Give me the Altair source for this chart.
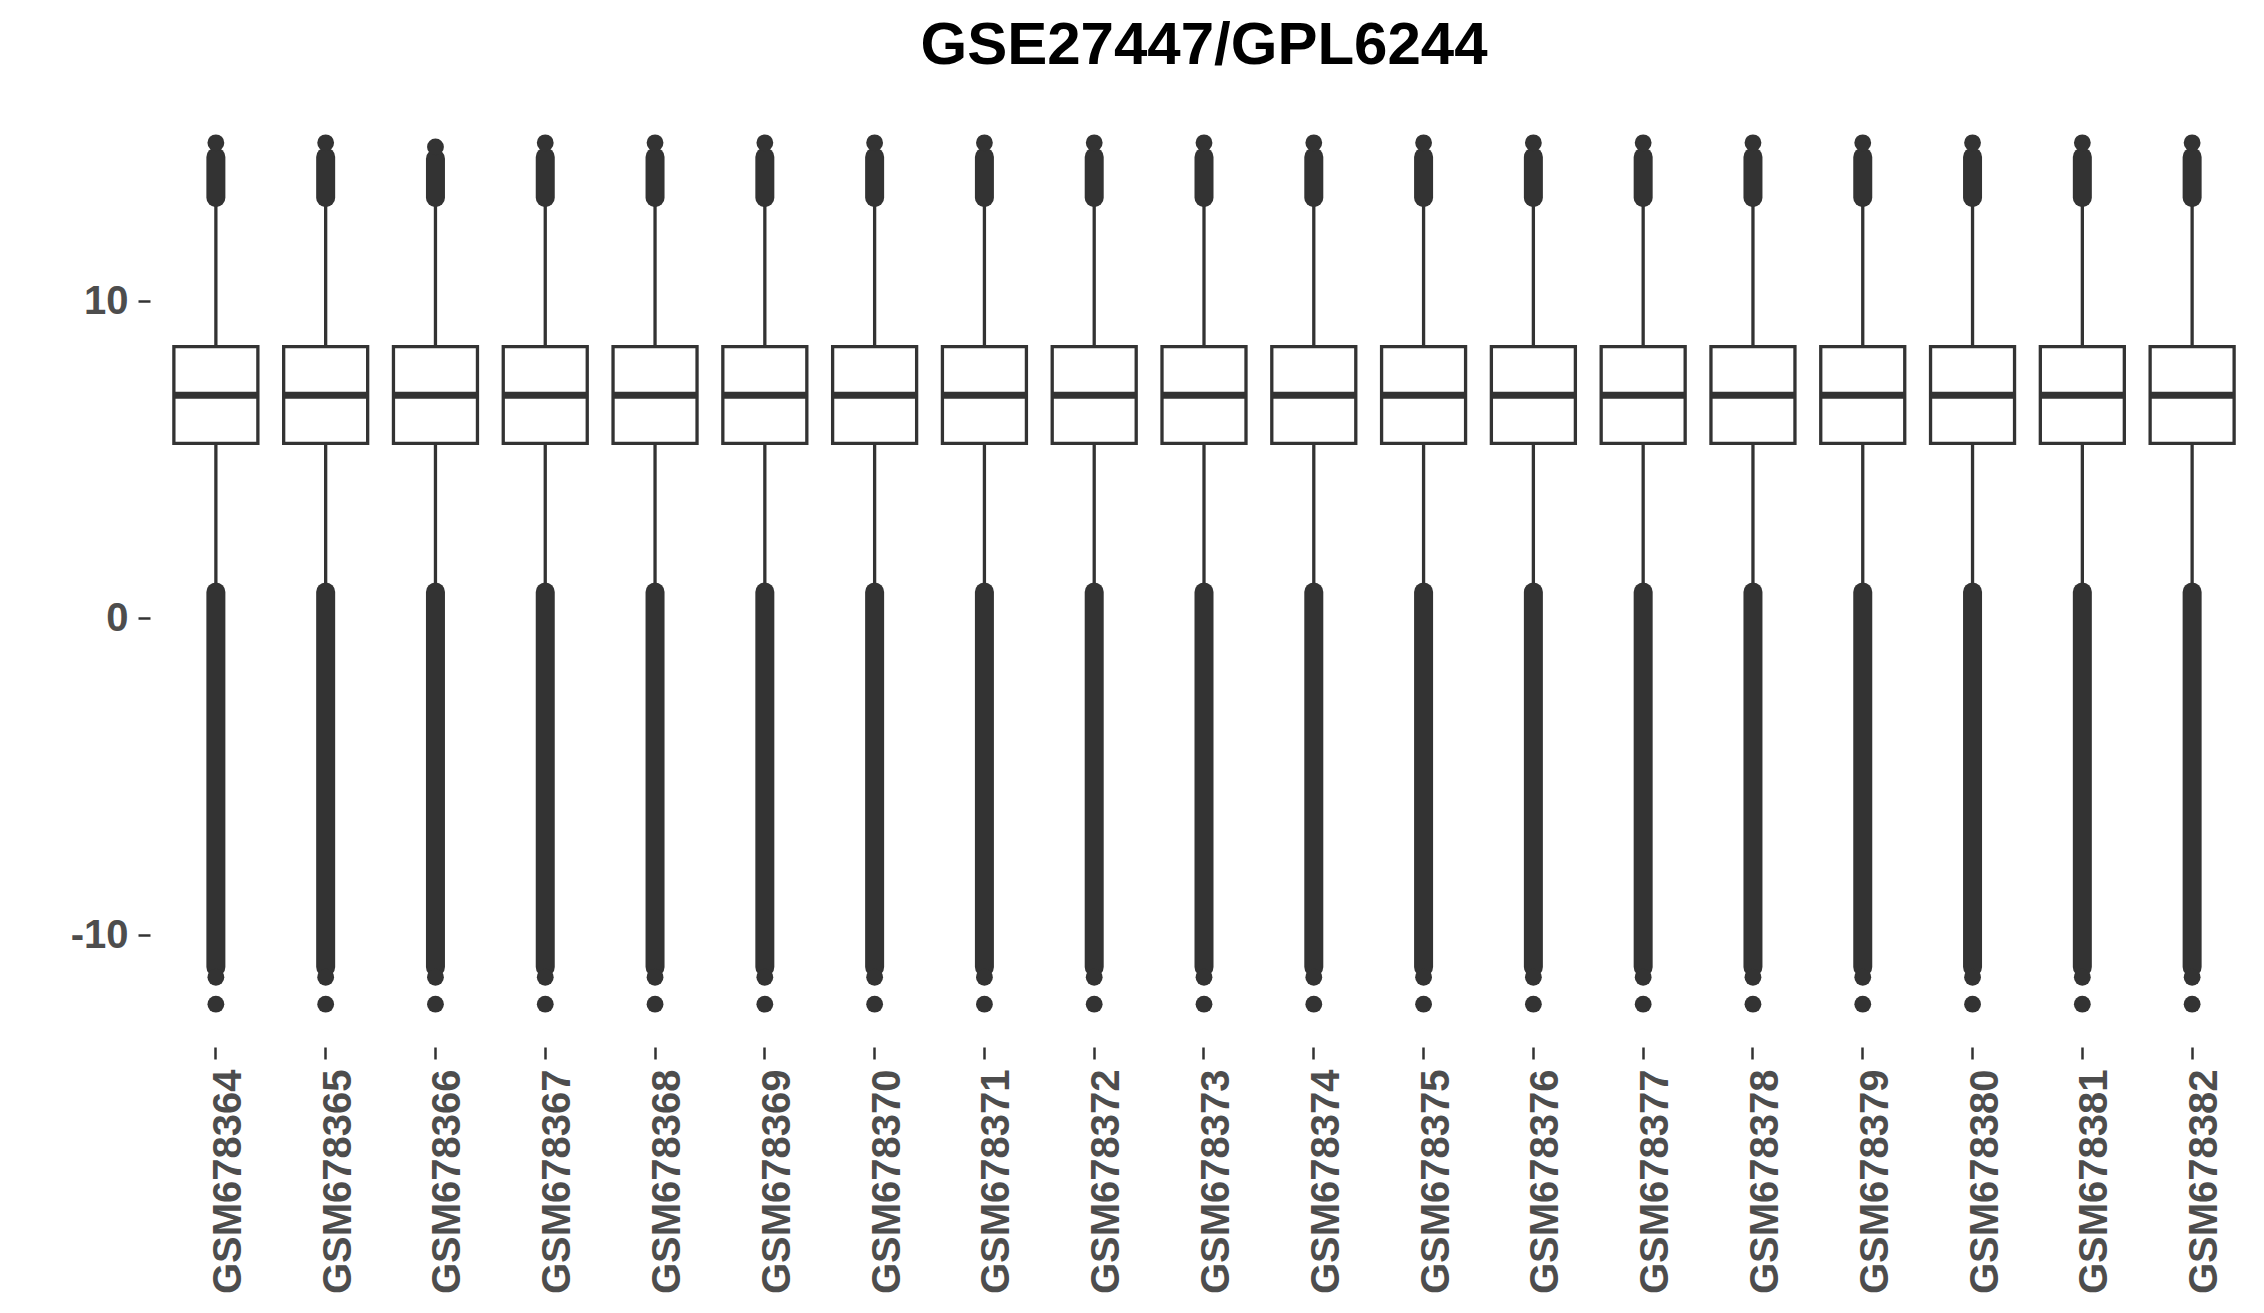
import altair as alt
import pandas as pd

samples = ["GSM678364", "GSM678365", "GSM678366", "GSM678367", "GSM678368",
           "GSM678369", "GSM678370", "GSM678371", "GSM678372", "GSM678373",
           "GSM678374", "GSM678375", "GSM678376", "GSM678377", "GSM678378",
           "GSM678379", "GSM678380", "GSM678381", "GSM678382"]
q1 = [5.52, 5.52, 5.52, 5.52, 5.52, 5.52, 5.52, 5.52, 5.52, 5.52,
      5.52, 5.52, 5.52, 5.52, 5.52, 5.52, 5.52, 5.52, 5.52]
median = [7.04, 7.04, 7.04, 7.04, 7.04, 7.04, 7.04, 7.04, 7.04, 7.04,
          7.04, 7.04, 7.04, 7.04, 7.04, 7.04, 7.04, 7.04, 7.04]
q3 = [8.57, 8.57, 8.57, 8.57, 8.57, 8.57, 8.57, 8.57, 8.57, 8.57,
      8.57, 8.57, 8.57, 8.57, 8.57, 8.57, 8.57, 8.57, 8.57]
whisker_low = [0.95, 0.95, 0.95, 0.95, 0.95, 0.95, 0.95, 0.95, 0.95, 0.95,
               0.95, 0.95, 0.95, 0.95, 0.95, 0.95, 0.95, 0.95, 0.95]
whisker_high = [13.12, 13.12, 13.12, 13.12, 13.12, 13.12, 13.12, 13.12, 13.12, 13.12,
                13.12, 13.12, 13.12, 13.12, 13.12, 13.12, 13.12, 13.12, 13.12]
# dense low outlier band (top and bottom of the band) and lowest single outlier
low_out_top = [0.83, 0.83, 0.83, 0.83, 0.83, 0.83, 0.83, 0.83, 0.83, 0.83,
               0.83, 0.83, 0.83, 0.83, 0.83, 0.83, 0.83, 0.83, 0.83]
low_out_bottom = [-11.0, -11.0, -11.0, -11.0, -11.0, -11.0, -11.0, -11.0, -11.0, -11.0,
                  -11.0, -11.0, -11.0, -11.0, -11.0, -11.0, -11.0, -11.0, -11.0]
low_out_next = [-11.32, -11.32, -11.32, -11.32, -11.32, -11.32, -11.32, -11.32, -11.32, -11.32,
                -11.32, -11.32, -11.32, -11.32, -11.32, -11.32, -11.32, -11.32, -11.32]
min_value = [-12.17, -12.17, -12.17, -12.17, -12.17, -12.17, -12.17, -12.17, -12.17, -12.17,
             -12.17, -12.17, -12.17, -12.17, -12.17, -12.17, -12.17, -12.17, -12.17]
# dense high outlier band and highest single outlier
high_out_bottom = [13.27, 13.27, 13.27, 13.27, 13.27, 13.27, 13.27, 13.27, 13.27, 13.27,
                   13.27, 13.27, 13.27, 13.27, 13.27, 13.27, 13.27, 13.27, 13.27]
high_out_top = [14.55, 14.55, 14.5, 14.55, 14.55, 14.55, 14.55, 14.55, 14.55, 14.55,
                14.55, 14.55, 14.55, 14.55, 14.55, 14.55, 14.55, 14.55, 14.55]
max_value = [15.0, 15.0, 14.87, 15.0, 15.0, 15.0, 15.0, 15.0, 15.0, 15.0,
             15.0, 15.0, 15.0, 15.0, 15.0, 15.0, 15.0, 15.0, 15.0]
y_ticks = [-10, 0, 10]

df = pd.DataFrame({
    "sample": samples, "q1": q1, "median": median, "q3": q3,
    "wlo": whisker_low, "whi": whisker_high,
    "lo_top": low_out_top, "lo_bot": low_out_bottom, "lo_next": low_out_next,
    "ymin": min_value, "hi_bot": high_out_bottom, "hi_top": high_out_top,
    "ymax": max_value,
})

DARK = "#333333"
LABEL = "#4D4D4D"
FONT = "Liberation Sans"

x_enc = alt.X("sample:N", sort=samples,
              scale=alt.Scale(type="band", paddingInner=0, paddingOuter=0.1),
              axis=alt.Axis(title=None, labelAngle=-90, labelFont=FONT,
                            labelFontSize=40, labelFontWeight="bold",
                            labelColor=LABEL, labelPadding=10, tickSize=12,
                            tickWidth=2.5, tickColor=DARK, domain=False,
                            grid=False, bandPosition=0.5, labelOverlap=False,
                            labelLimit=0, labelOffset=13))
y_scale = alt.Scale(domain=[-13.52, 16.35], nice=False, zero=False)
y_axis = alt.Axis(title=None, values=y_ticks, labelExpr="datum.value + ''",
                  labelFont=FONT, labelFontSize=40, labelFontWeight="bold",
                  labelColor=LABEL, labelPadding=10, tickSize=12,
                  tickWidth=2.5, tickColor=DARK, domain=False, grid=False)

base = alt.Chart(df)

whisk_lo = base.mark_rule(color=DARK, strokeWidth=3.3).encode(
    x=x_enc, y=alt.Y("wlo:Q", scale=y_scale, axis=y_axis), y2="q1:Q")
whisk_hi = base.mark_rule(color=DARK, strokeWidth=3.3).encode(
    x=x_enc, y=alt.Y("q3:Q", scale=y_scale, axis=y_axis), y2="whi:Q")

band_lo = base.mark_rule(color=DARK, strokeWidth=19, strokeCap="round").encode(
    x=x_enc, y=alt.Y("lo_top:Q", scale=y_scale, axis=y_axis), y2="lo_bot:Q")
band_hi = base.mark_rule(color=DARK, strokeWidth=19, strokeCap="round").encode(
    x=x_enc, y=alt.Y("hi_bot:Q", scale=y_scale, axis=y_axis), y2="hi_top:Q")

pt_style = dict(color=DARK, filled=True, opacity=1, size=283, shape="circle")
pt_next = base.mark_point(**pt_style).encode(
    x=x_enc, y=alt.Y("lo_next:Q", scale=y_scale, axis=y_axis))
pt_min = base.mark_point(**pt_style).encode(
    x=x_enc, y=alt.Y("ymin:Q", scale=y_scale, axis=y_axis))
pt_max = base.mark_point(**pt_style).encode(
    x=x_enc, y=alt.Y("ymax:Q", scale=y_scale, axis=y_axis))

box = base.mark_bar(size=84, fill="white", stroke=DARK, strokeWidth=3.3,
                    opacity=1).encode(
    x=x_enc, y=alt.Y("q1:Q", scale=y_scale, axis=y_axis), y2="q3:Q")
med = base.mark_tick(color=DARK, size=84, thickness=7, opacity=1).encode(
    x=x_enc, y=alt.Y("median:Q", scale=y_scale, axis=y_axis))

chart = alt.layer(
    whisk_lo, whisk_hi, band_lo, band_hi, pt_next, pt_min, pt_max, box, med
).properties(
    width=2108, height=947,
    autosize=alt.AutoSizeParams(type="none"),
    padding={"left": 150, "top": 100, "right": 6, "bottom": 266},
    background="white",
    title=alt.TitleParams("GSE27447/GPL6244", font=FONT, fontSize=60,
                          fontWeight="bold", color="black", anchor="middle",
                          frame="group", baseline="top", offset=23),
).configure_view(stroke=None)

chart.save("out.html", embed_options={"renderer": "svg", "actions": False})
